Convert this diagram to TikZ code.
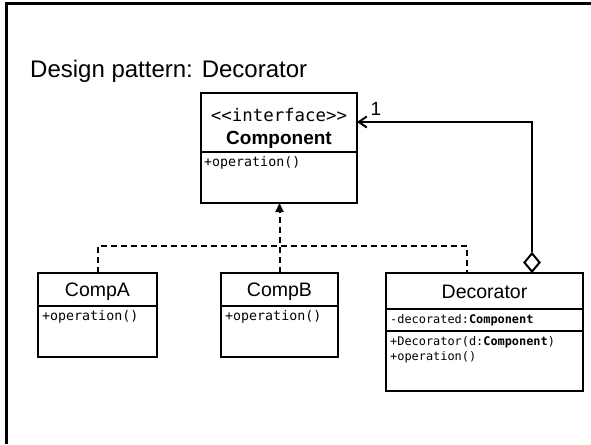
\documentclass[tikz,border=0pt]{standalone}
\usepackage{fontspec}
\setmainfont{Liberation Sans}
\newfontfamily\codefont{DejaVu Sans Mono}
\usetikzlibrary{arrows.meta,shapes.geometric}

\begin{document}
\begin{tikzpicture}[x=1pt,y=-1pt,
  classbox/.style={draw, line width=2pt, anchor=north west, inner sep=0pt, outer sep=0pt},
  sepline/.style={line width=2pt},
  dashline/.style={line width=2pt, dash pattern=on 6pt off 4pt},
  assoc/.style={line width=2pt},
  title/.style={font=\fontsize{24}{28}\selectfont, anchor=west, inner sep=0pt},
  cname/.style={font=\fontsize{19.5}{22}\selectfont, inner sep=0pt},
  stereo/.style={font=\codefont\fontsize{17.4}{20}\selectfont, inner sep=0pt},
  member/.style={font=\codefont\fontsize{13.3}{16}\selectfont, anchor=west, inner sep=0pt},
  smallmember/.style={font=\codefont\fontsize{11.9}{14}\selectfont, anchor=west, inner sep=0pt},
  framed/.style={line width=3pt}
]
\useasboundingbox (0,0) rectangle (591,444);

% page frame (top and left edges)
\draw[framed] (591,4) -- (6,4) -- (6,444);

% title
\node[title] (ttl) at (30,71) {Design pattern: Decorator};

% Component interface
\node[classbox, minimum width=156pt, minimum height=110pt] (comp) at (201,93) {};
\coordinate (compsep) at (0,152);
\draw[sepline] (comp.west |- compsep) -- (comp.east |- compsep);
\node[stereo] (compst) at (279,115) {<<interface>>};
\node[cname, font=\bfseries\fontsize{19}{22}\selectfont] (compnm) at (279,140) {Component};
\node[member] (compop) at (204,163) {+operation()};

% CompA
\node[classbox, minimum width=119pt, minimum height=84pt] (compa) at (38,273) {};
\coordinate (asep) at (0,306);
\draw[sepline] (compa.west |- asep) -- (compa.east |- asep);
\node[cname] (companm) at (97.5,292) {CompA};
\node[member] (compaop) at (42,317) {+operation()};

% CompB
\node[classbox, minimum width=117pt, minimum height=84pt] (compb) at (221,273) {};
\draw[sepline] (compb.west |- asep) -- (compb.east |- asep);
\node[cname] (compbnm) at (279.5,292) {CompB};
\node[member] (compbop) at (225,317) {+operation()};

% Decorator
\node[classbox, minimum width=197pt, minimum height=118pt] (dec) at (386,273) {};
\coordinate (dsep1) at (0,309);
\coordinate (dsep2) at (0,331);
\draw[sepline] (dec.west |- dsep1) -- (dec.east |- dsep1);
\draw[sepline] (dec.west |- dsep2) -- (dec.east |- dsep2);
\node[cname] (decnm) at (484.5,292) {Decorator};
\node[smallmember] (decattr) at (390,320) {-decorated:\textbf{Component}};
\node[smallmember] (decctor) at (390,342) {+Decorator(d:\textbf{Component})};
\node[smallmember] (decop) at (390,357) {+operation()};

% realization connectors
\coordinate (dectap) at (467,246);
\draw[dashline] (compa.north) |- (dectap) -- (dectap |- dec.north);
\draw[dashline, -{Triangle[length=9pt,width=8pt]}] (compb.north) -- (compb.north |- comp.south);

% aggregation to Component
\node[diamond, draw, line width=2pt, fill=white, inner sep=0pt, minimum width=16pt, minimum height=19pt, anchor=south] (dia) at (532,273) {};
\coordinate (aggy) at (0,122);
\draw[assoc, -{Straight Barb[length=8pt,width=11pt]}] (dia.north) |- (comp.east |- aggy);
\node[font=\fontsize{19}{22}\selectfont, inner sep=0pt] (mult) at (376,109) {1};
\end{tikzpicture}
\end{document}
